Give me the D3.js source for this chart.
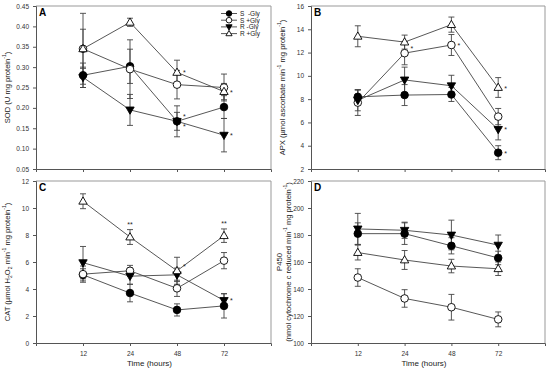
<!DOCTYPE html>
<html>
<head>
<meta charset="utf-8">
<script src="https://cdn.jsdelivr.net/npm/d3@7"></script>
<style>
  body { margin: 0; background: #fff; }
  svg { font-family: "Liberation Sans", Arial, sans-serif; }
</style>
</head>
<body>
<svg id="chart" width="550" height="373"></svg>
<script>
// time points and treatment groups
var times = ['12', '24', '48', '72'];
var groups = ['S  -Gly', 'S +Gly', 'R -Gly', 'R +Gly'];

// means / errors, one row per group (S -Gly, S +Gly, R -Gly, R +Gly)
var sodMean = [[0.280, 0.302, 0.167, 0.202], [0.345, 0.295, 0.257, 0.250], [0.275, 0.195, 0.167, 0.133], [0.345, 0.410, 0.287, 0.240]];
var sodErr = [[0.030, 0.042, 0.038, 0.028], [0.048, 0.072, 0.035, 0.033], [0.025, 0.038, 0.022, 0.041], [0.087, 0.010, 0.030, 0.020]];
var apxMean = [[8.2, 8.35, 8.4, 3.4], [7.7, 11.95, 12.65, 6.5], [7.9, 9.65, 9.15, 5.4], [13.4, 12.9, 14.4, 9.0]];
var apxErr = [[0.6, 0.9, 0.6, 0.6], [1.1, 1.0, 0.9, 0.7], [0.9, 1.1, 0.9, 0.9], [0.9, 0.6, 0.65, 0.85]];
var catMean = [[5.05, 3.7, 2.45, 2.75], [5.1, 5.35, 4.05, 6.1], [5.95, 4.95, 5.05, 3.15], [10.5, 7.85, 5.35, 7.95]];
var catErr = [[0.45, 0.65, 0.45, 0.9], [0.6, 0.4, 0.6, 0.6], [1.2, 0.6, 0.5, 0.5], [0.55, 0.55, 1.0, 0.5]];
var p450Mean = [[181, 181, 172, 163], [148.5, 133, 126.5, 117.5], [184.5, 183.5, 180, 172.5], [167, 161.5, 157, 155]];
var p450Err = [[8, 8, 6, 5], [6.5, 6.5, 9.5, 5.5], [11.5, 6, 11, 7.5], [5.5, 7, 5, 5]];

// y tick labels
var sodTicks = [0.05, 0.10, 0.15, 0.20, 0.25, 0.30, 0.35, 0.40, 0.45];
var apxTicks = [2, 4, 6, 8, 10, 12, 14, 16];
var catTicks = [0, 2, 4, 6, 8, 10, 12];
var p450Ticks = [100, 120, 140, 160, 180, 200, 220];

// significance marks: [group, time index, text, placement]
var sodStars = [[3, 2, '*', 'right'], [0, 2, '*', 'upright'], [2, 2, '*', 'downright'], [3, 3, '*', 'right'], [2, 3, '*', 'right']];
var apxStars = [[1, 1, '*', 'upright'], [1, 2, '*', 'right'], [3, 3, '*', 'right'], [2, 3, '*', 'right'], [0, 3, '*', 'right']];
var catStars = [[3, 1, '**', 'above'], [3, 3, '**', 'above'], [3, 2, '*', 'upright'], [2, 3, '*', 'right']];
var p450Stars = [];

var svg = d3.select('#chart');
var lineCol = '#444', axisCol = '#555';

var panels = [
  {id: 'A', mean: sodMean, err: sodErr, ticks: sodTicks, fmt: d3.format('.2f'), stars: sodStars,
   box: {l: 36, r: 271, t: 6, b: 169}, xlabels: false,
   ylab: [{x: 10, parts: [['SOD (U mg protein'], ['-1', 'sup'], [')']]}]},
  {id: 'B', mean: apxMean, err: apxErr, ticks: apxTicks, fmt: d3.format('d'), stars: apxStars,
   box: {l: 311, r: 545, t: 6, b: 169}, xlabels: false,
   ylab: [{x: 285, parts: [['APX (\u00b5mol ascorbate min'], ['-1', 'sup'], [' mg protein'], ['-1', 'sup'], [')']]}]},
  {id: 'C', mean: catMean, err: catErr, ticks: catTicks, fmt: d3.format('d'), stars: catStars,
   box: {l: 36, r: 271, t: 181, b: 343}, xlabels: true,
   ylab: [{x: 10, parts: [['CAT (\u00b5mol H'], ['2', 'sub'], ['O'], ['2', 'sub'], [' min'], ['-1', 'sup'], [' mg protein'], ['-1', 'sup'], [')']]}]},
  {id: 'D', mean: p450Mean, err: p450Err, ticks: p450Ticks, fmt: d3.format('d'), stars: p450Stars,
   box: {l: 311, r: 545, t: 181, b: 343}, xlabels: true,
   ylab: [{x: 282, parts: [['P450']]},
          {x: 290.5, parts: [['(nmol cytochrome c reduced min'], ['-1', 'sup'], [' mg protein'], ['-1', 'sup'], [')']]}]}
];

function marker(sel, g, r) {
  // 0: filled circle, 1: open circle, 2: filled down triangle, 3: open up triangle
  if (g < 2) {
    sel.append('circle').attr('r', r)
      .attr('fill', g === 0 ? '#000' : '#fff').attr('stroke', '#000').attr('stroke-width', 0.9);
  } else {
    var w = r * 1.1, h = r * 1.9;
    var d = g === 2
      ? 'M' + (-w) + ',' + (-h * 0.4) + 'L' + w + ',' + (-h * 0.4) + 'L0,' + (h * 0.6) + 'Z'
      : 'M' + (-w) + ',' + (h * 0.4) + 'L' + w + ',' + (h * 0.4) + 'L0,' + (-h * 0.6) + 'Z';
    sel.append('path').attr('d', d)
      .attr('fill', g === 2 ? '#000' : '#fff').attr('stroke', '#000').attr('stroke-width', 0.9);
  }
}

panels.forEach(function(p) {
  var b = p.box;
  var x = d3.scaleLinear().domain([0, 5]).range([b.l, b.r]);
  var y = d3.scaleLinear().domain(d3.extent(p.ticks)).range([b.b, b.t]);
  var g = svg.append('g');

  // frame top / right
  g.append('path')
    .attr('d', 'M' + b.l + ',' + b.t + 'H' + b.r + 'V' + b.b)
    .attr('fill', 'none').attr('stroke', '#999').attr('stroke-width', 1);

  // y axis
  var ya = g.append('g').attr('transform', 'translate(' + b.l + ',0)')
    .call(d3.axisLeft(y).tickValues(p.ticks).tickFormat(p.fmt).tickSizeOuter(0).tickSize(3).tickPadding(4));
  // x axis
  var xa = g.append('g').attr('transform', 'translate(0,' + b.b + ')')
    .call(d3.axisBottom(x).tickValues([1, 2, 3, 4])
      .tickFormat(function(d) { return p.xlabels ? times[d - 1] : ''; })
      .tickSizeOuter(0).tickSize(3).tickPadding(5));
  [ya, xa].forEach(function(a) {
    a.select('.domain').attr('stroke', axisCol);
    a.selectAll('.tick line').attr('stroke', axisCol);
    a.selectAll('.tick text').attr('fill', '#333').style('font-size', '6.5px');
  });

  if (p.xlabels) {
    g.append('text').attr('x', (b.l + b.r) / 2 - 4).attr('y', 366)
      .attr('text-anchor', 'middle').style('font-size', '8px').attr('fill', '#222')
      .text('Time (hours)');
  }

  // y label(s)
  p.ylab.forEach(function(lab) {
    var t = g.append('text')
      .attr('transform', 'translate(' + lab.x + ',' + ((b.t + b.b) / 2) + ') rotate(-90)')
      .attr('text-anchor', 'middle').style('font-size', '7.6px').attr('fill', '#222');
    lab.parts.forEach(function(part) {
      var s = t.append('tspan').text(part[0]);
      if (part[1] === 'sup') s.attr('baseline-shift', '4').style('font-size', '5px');
      if (part[1] === 'sub') s.attr('baseline-shift', '-2').style('font-size', '5px');
    });
  });

  // panel letter
  g.append('text').attr('x', b.l + 3).attr('y', b.t + 10)
    .style('font-size', '10px').style('font-weight', 'bold').text(p.id);

  // lines
  var line = d3.line().x(function(d, i) { return x(i + 1); }).y(function(d) { return y(d); });
  p.mean.forEach(function(m) {
    g.append('path').attr('d', line(m)).attr('fill', 'none')
      .attr('stroke', lineCol).attr('stroke-width', 0.9);
  });

  // error bars
  p.mean.forEach(function(m, gi) {
    m.forEach(function(v, i) {
      var e = p.err[gi][i], cx = x(i + 1);
      var eb = g.append('g').attr('stroke', lineCol).attr('stroke-width', 0.9);
      eb.append('line').attr('x1', cx).attr('x2', cx).attr('y1', y(v - e)).attr('y2', y(v + e));
      [v - e, v + e].forEach(function(vv) {
        eb.append('line').attr('x1', cx - 3).attr('x2', cx + 3).attr('y1', y(vv)).attr('y2', y(vv));
      });
    });
  });

  // markers
  p.mean.forEach(function(m, gi) {
    m.forEach(function(v, i) {
      var mg = g.append('g').attr('transform', 'translate(' + x(i + 1) + ',' + y(v) + ')');
      marker(mg, gi, 3.8);
    });
  });

  // significance marks
  p.stars.forEach(function(s) {
    var v = p.mean[s[0]][s[1]], e = p.err[s[0]][s[1]];
    var sx = x(s[1] + 1), sy = y(v), anchor = 'start';
    if (s[3] === 'right') { sx += 6; sy += 3; }
    if (s[3] === 'upright') { sx += 6; sy -= 2; }
    if (s[3] === 'downright') { sx += 6; sy += 8; }
    if (s[3] === 'above') { sy = y(v + e) - 3; anchor = 'middle'; }
    g.append('text').attr('x', sx).attr('y', sy).attr('text-anchor', anchor)
      .style('font-size', '7px').attr('fill', '#222').text(s[2]);
  });

  // legend (panel A only)
  if (p.id === 'A') {
    groups.forEach(function(name, gi) {
      var ly = 13.5 + gi * 6.7;
      var lg = g.append('g');
      lg.append('line').attr('x1', 221).attr('x2', 237).attr('y1', ly).attr('y2', ly)
        .attr('stroke', lineCol).attr('stroke-width', 0.9);
      marker(lg.append('g').attr('transform', 'translate(229,' + ly + ')'), gi, 2.8);
      lg.append('text').attr('x', 240).attr('y', ly + 2.3)
        .style('font-size', '6.5px').attr('fill', '#222').style('white-space', 'pre').text(name);
    });
  }
});
</script>
</body>
</html>
